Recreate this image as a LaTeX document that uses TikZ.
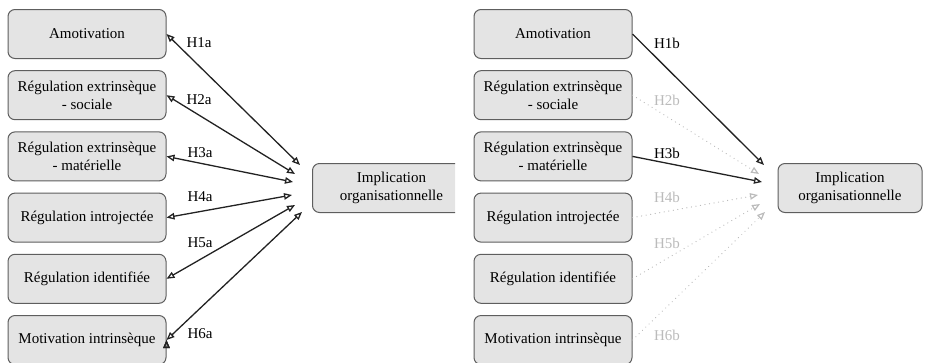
\documentclass[tikz,border=0pt]{standalone}
\usepackage{fontspec}
\setmainfont{Liberation Serif}
\usetikzlibrary{arrows.meta,positioning}
\definecolor{boxfill}{HTML}{E4E4E4}
\definecolor{boxline}{HTML}{5E5E5E}
\definecolor{arrowline}{HTML}{222222}
\definecolor{faint}{HTML}{BBBBBB}

\begin{document}
\begin{tikzpicture}[x=1pt,y=-1pt,>={Triangle[open,length=8pt,width=6.5pt]},node distance=61.2pt,
                    main box/.style={rectangle,rounded corners=7pt,draw=boxline,fill=boxfill,line width=1pt,
                      minimum width=158pt,minimum height=49pt,align=center,font=\fontsize{15}{18}\selectfont},
                    hyp/.style={font=\fontsize{15}{18}\selectfont},
                    link/.style={draw=arrowline,line width=1.3pt},
                    weak/.style={draw=faint,line width=1.2pt,line cap=round,dash pattern=on 0.1pt off 4.5pt}]
  \useasboundingbox (0,0) rectangle (931,362);

  % left model
  \node[main box] (a1) at (87,34) {Amotivation};
  \node[main box] (a2) [below of=a1] {Régulation extrinsèque\\- sociale};
  \node[main box] (a3) [below of=a2] {Régulation extrinsèque\\- matérielle};
  \node[main box] (a4) [below of=a3] {Régulation introjectée};
  \node[main box] (a5) [below of=a4] {Régulation identifiée};
  \node[main box] (a6) [below of=a5] {Motivation intrinsèque};
  \begin{scope}
    \clip (0,0) rectangle (455,362);
    \node[main box] (ai) at (391.5,188) {Implication\\organisationnelle};
  \end{scope}

  \coordinate (e1) at (300,165);
  \coordinate (e2) at (295,174);
  \coordinate (e3) at (293,182);
  \coordinate (e4) at (292,195);
  \coordinate (e5) at (295,205);
  \coordinate (e6) at (302,212);

  \path[link,<->]
    (a1.east) edge (e1)
    (a2.east) edge (e2)
    (a3.east) edge (e3)
    (a4.east) edge (e4)
    (a5.east) edge (e5)
    (a6.east) edge (e6);

  \node[hyp] (h1a) at (199,43) {H1a};
  \node[hyp] (h2a) at (199,100) {H2a};
  \node[hyp] (h3a) at (200,153) {H3a};
  \node[hyp] (h4a) at (200,197) {H4a};
  \node[hyp] (h5a) at (200,243) {H5a};
  \node[hyp] (h6a) at (200,334) {H6a};

  % right model
  \node[main box] (b1) at (553,34) {Amotivation};
  \node[main box] (b2) [below of=b1] {Régulation extrinsèque\\- sociale};
  \node[main box] (b3) [below of=b2] {Régulation extrinsèque\\- matérielle};
  \node[main box] (b4) [below of=b3] {Régulation introjectée};
  \node[main box] (b5) [below of=b4] {Régulation identifiée};
  \node[main box] (b6) [below of=b5] {Motivation intrinsèque};
  \node[main box,minimum width=144pt] (bi) at (850,188) {Implication\\organisationnelle};

  \coordinate (f1) at (764,165);
  \coordinate (f2) at (759,174);
  \coordinate (f3) at (762,182);
  \coordinate (f4) at (758,195);
  \coordinate (f5) at (760,204);
  \coordinate (f6) at (765,212);

  \path[->]
    (b1.east) edge[link] (f1)
    (b2.east) edge[weak] (f2)
    (b3.east) edge[link] (f3)
    (b4.east) edge[weak] (f4)
    (b5.east) edge[weak] (f5)
    (b6.east) edge[weak] (f6);

  \node[hyp] (h1b) at (667,43) {H1b};
  \node[hyp,text=faint] (h2b) at (667,100) {H2b};
  \node[hyp] (h3b) at (667,153) {H3b};
  \node[hyp,text=faint] (h4b) at (667,197) {H4b};
  \node[hyp,text=faint] (h5b) at (667,243) {H5b};
  \node[hyp,text=faint] (h6b) at (667,335) {H6b};
\end{tikzpicture}
\end{document}
